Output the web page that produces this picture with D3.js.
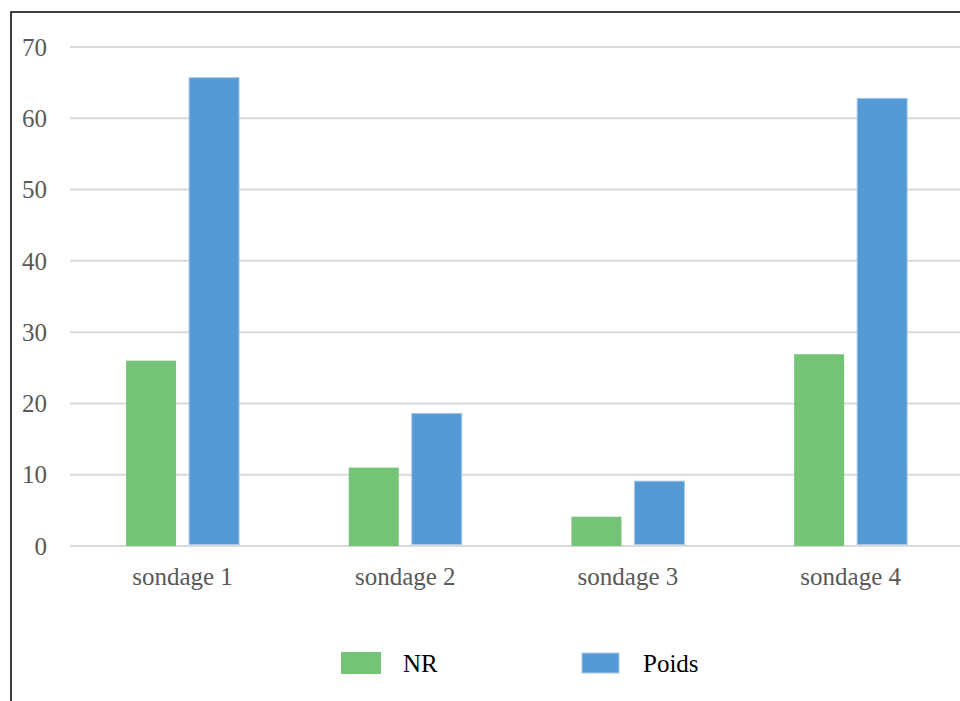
<!DOCTYPE html>
<html><head><meta charset="utf-8">
<script src="https://cdn.jsdelivr.net/npm/d3@7"></script>
<style>body{margin:0;background:#fff}svg{display:block}</style>
</head><body>
<svg id="c" width="960" height="701"></svg>
<script>
const categories = ["sondage 1","sondage 2","sondage 3","sondage 4"];
const seriesNames = ["NR","Poids"];
const nrValues = [26, 11, 4.1, 26.9];
const poidsValues = [65.7, 18.6, 9.1, 62.8];
const yTicks = [0,10,20,30,40,50,60,70];
const colors = {NR:"#75c376", Poids:"#5599d5"};

const svg = d3.select("#c");
const font = "Liberation Serif, Times New Roman, Times, serif";

// border
svg.append("rect").attr("x",11).attr("y",12).attr("width",960).attr("height",700)
  .attr("fill","none").attr("stroke","#000").attr("stroke-width",1.5);

const x = d3.scaleBand().domain(categories).range([71.2, 962]).paddingInner(0).paddingOuter(0);
const y = d3.scaleLinear().domain([0,70]).range([546,47]);

// gridlines
svg.append("g").selectAll("line").data(yTicks).join("line")
  .attr("x1",70).attr("x2",962)
  .attr("y1",d=>y(d)).attr("y2",d=>y(d))
  .attr("stroke","#d9d9d9").attr("stroke-width",2);

// y labels
svg.append("g").selectAll("text").data(yTicks).join("text")
  .attr("x",47).attr("y",d=>y(d)).attr("dy","0.35em")
  .attr("text-anchor","end").attr("font-family",font).attr("font-size",25)
  .attr("fill","#595959").text(d=>d);

const bw = 50, gap = 13;
const data = [];
categories.forEach((c,i)=>{
  data.push({c, s:"NR", v:nrValues[i]});
  data.push({c, s:"Poids", v:poidsValues[i]});
});
const offset = s => x.bandwidth()/2 + (s==="NR" ? -(gap/2+bw) : gap/2);

svg.append("g").selectAll("rect").data(data).join("rect")
  .attr("x",d=>x(d.c)+offset(d.s))
  .attr("y",d=>y(d.v))
  .attr("width",bw)
  .attr("height",d=>y(0)-y(d.v) - (d.s==="Poids"?1.5:0))
  .attr("fill",d=>colors[d.s])
  .attr("stroke",d=>d.s==="Poids"?"#a9c9ec":"none")
  .attr("stroke-width",1);

// x labels
svg.append("g").selectAll("text").data(categories).join("text")
  .attr("x",d=>x(d)+x.bandwidth()/2).attr("y",585)
  .attr("text-anchor","middle").attr("font-family",font).attr("font-size",25)
  .attr("fill","#595959").text(d=>d);

// legend
const legendX = {NR:341, Poids:582};
const lg = svg.append("g").selectAll("g").data(seriesNames).join("g")
  .attr("transform",d=>`translate(${legendX[d]},652)`);
lg.append("rect").attr("width",d=>d==="NR"?40:37).attr("height",d=>d==="NR"?22:20)
  .attr("y",d=>d==="NR"?0:1)
  .attr("fill",d=>colors[d]).attr("stroke",d=>d==="Poids"?"#a9c9ec":"none");
lg.append("text").attr("x",d=>d==="NR"?62:61).attr("y",20)
  .attr("font-family",font).attr("font-size",25).attr("fill","#000").text(d=>d);
</script>
</body></html>
